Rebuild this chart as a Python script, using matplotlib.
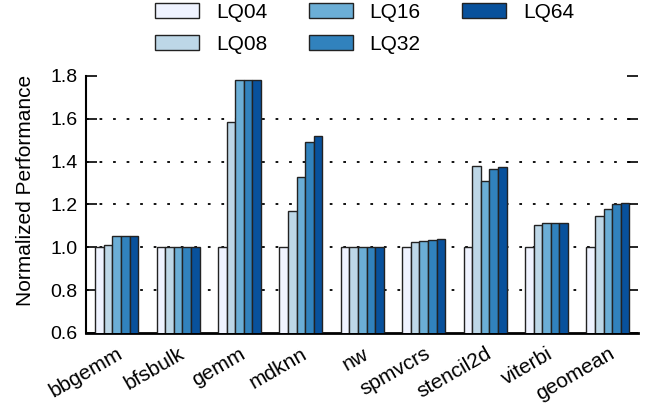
import numpy as np
import matplotlib
matplotlib.use('Agg')
import matplotlib.pyplot as plt

plt.rcParams['font.family'] = ['Liberation Sans', 'DejaVu Sans']

benchmarks = ['bbgemm', 'bfsbulk', 'gemm', 'mdknn', 'nw', 'spmvcrs', 'stencil2d', 'viterbi', 'geomean']
configs = ['LQ04', 'LQ08', 'LQ16', 'LQ32', 'LQ64']

lq04 = [1.0, 1.0, 1.0, 1.0, 1.0, 1.0, 1.0, 1.0, 1.0]
lq08 = [1.013, 1.0, 1.585, 1.169, 1.0, 1.027, 1.379, 1.106, 1.145]
lq16 = [1.055, 1.0, 1.78, 1.33, 1.0, 1.031, 1.309, 1.112, 1.18]
lq32 = [1.055, 1.0, 1.78, 1.492, 1.0, 1.036, 1.367, 1.112, 1.203]
lq64 = [1.055, 1.0, 1.78, 1.52, 1.0, 1.037, 1.376, 1.112, 1.208]

colors = ['#eff3ff', '#bdd7e7', '#6baed6', '#3182bd', '#08519c']

fig = plt.figure(figsize=(6.49, 4.05), dpi=100)
# axes box: left spine at x=86, right end 638, bottom 333, top 76 (pixels)
ax = fig.add_axes([86/649, 1 - 333/405, (638-86)/649, (333-76)/405])

x = np.arange(len(benchmarks))
width = 0.14
series = [lq04, lq08, lq16, lq32, lq64]
for i, (vals, name) in enumerate(zip(series, configs)):
    ax.bar(x + (i - 2) * width, vals, width, bottom=0, label=name,
           color=colors[i], edgecolor='#222222', linewidth=1.0, zorder=3)

ax.set_ylim(0.6, 1.8)
ax.set_xlim(-0.5, 8.49)
ax.set_yticks([0.6, 0.8, 1.0, 1.2, 1.4, 1.6, 1.8])
ax.set_yticklabels(['0.6', '0.8', '1.0', '1.2', '1.4', '1.6', '1.8'], fontsize=14)
ax.set_xticks(x)
ax.set_xticklabels(benchmarks, rotation=30, ha='right', rotation_mode='anchor', fontsize=15)
ax.tick_params(axis='x', length=0, pad=8)
ax.tick_params(axis='y', direction='in', length=8, width=1.2, pad=6, right=True)
ax.set_ylabel('Normalized Performance', fontsize=15)
ax.yaxis.set_label_coords(-0.093, 0.555)

# dotted grid, skipping the top line at 1.8
for yv in [0.8, 1.0, 1.2, 1.4, 1.6]:
    ax.axhline(yv, linestyle=(0, (1.5, 6)), color='black', linewidth=1.3, zorder=0)
ax.spines['top'].set_visible(False)
ax.spines['right'].set_visible(False)
ax.spines['left'].set_linewidth(1.5)
ax.spines['bottom'].set_linewidth(2)

fig.legend(loc='upper left', bbox_to_anchor=(155/649, 1 - 3/405), ncol=3, frameon=False,
           fontsize=15, handlelength=2.1, handleheight=0.72, columnspacing=2.0,
           labelspacing=0.6, handletextpad=0.82, borderpad=0, borderaxespad=0)

plt.savefig('out.png', dpi=100)
